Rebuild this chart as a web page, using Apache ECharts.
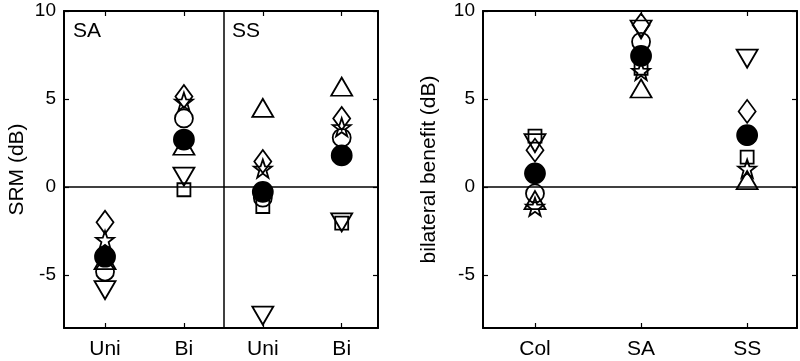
<!DOCTYPE html>
<html>
<head>
<meta charset="utf-8">
<script src="https://cdn.jsdelivr.net/npm/echarts@6/dist/echarts.min.js"></script>
<style>html,body{margin:0;padding:0;background:#fff}#c{width:800px;height:361px}</style>
</head>
<body>
<div id="c"></div>
<script>
// ---- data ----
const leftCats = ['Uni', 'Bi', 'Uni', 'Bi'];
const rightCats = ['Col', 'SA', 'SS'];
const yTicks = [-5, 0, 5, 10];

// SRM (dB), left panel, one value per category
const srmSquare   = [-4.0, -0.15, -1.1, -2.05];
const srmTriUp    = [-4.15, 2.35, 4.5, 5.7];
const srmTriDown  = [-5.85, 0.6, -7.3, -2.0];
const srmDiamond  = [-2.0, 5.15, 1.45, 3.9];
const srmCircle   = [-4.8, 3.9, -0.6, 2.8];
const srmStar     = [-3.0, 4.85, 1.05, 3.4];
const srmMean     = [-3.95, 2.7, -0.27, 1.8];

// bilateral benefit (dB), right panel
const benSquare   = [2.9, 6.75, 1.7];
const benTriUp    = [-0.74, 5.6, 0.4];
const benTriDown  = [2.5, 8.95, 7.3];
const benDiamond  = [2.1, 9.2, 4.3];
const benCircle   = [-0.36, 8.25, 2.9];
const benStar     = [-1.12, 6.6, 1.05];
const benMean     = [0.78, 7.45, 2.95];

// ---- styling ----
const FONT = 'Liberation Sans, Arial, Helvetica, sans-serif';
const STAR = 'path://M0,-10 L2.35,-3.24 L9.51,-3.09 L3.8,1.24 L5.88,8.09 L0,4 L-5.88,8.09 L-3.8,1.24 L-9.51,-3.09 L-2.35,-3.24 Z';
const TRIDOWN = 'path://M0,0 L10,0 L5,8.66 Z';
const markers = [
  {key: 'square',  symbol: 'rect',     size: [13, 13], fill: false},
  {key: 'triUp',   symbol: 'triangle', size: [21, 18], fill: false},
  {key: 'triDown', symbol: TRIDOWN,    size: [21, 18], fill: false},
  {key: 'diamond', symbol: 'diamond',  size: [17, 23], fill: false},
  {key: 'circle',  symbol: 'circle',   size: [18, 18], fill: false},
  {key: 'star',    symbol: STAR,       size: [18, 18], fill: false},
  {key: 'mean',    symbol: 'circle',   size: [20, 20], fill: true}
];
const leftData = {square: srmSquare, triUp: srmTriUp, triDown: srmTriDown, diamond: srmDiamond, circle: srmCircle, star: srmStar, mean: srmMean};
const rightData = {square: benSquare, triUp: benTriUp, triDown: benTriDown, diamond: benDiamond, circle: benCircle, star: benStar, mean: benMean};

const chart = echarts.init(document.getElementById('c'), null, {renderer: 'canvas'});

function yAxisPair(gridIndex, name, nameGap) {
  const base = {
    type: 'value', gridIndex: gridIndex, min: -8, max: 10,
    splitLine: {show: false},
    axisLine: {show: true, lineStyle: {color: '#000', width: 2}},
    axisTick: {show: true, inside: true, length: 5, customValues: yTicks, lineStyle: {color: '#000', width: 1.2}}
  };
  return [
    Object.assign({}, base, {
      position: 'left', name: name, nameLocation: 'middle', nameGap: nameGap,
      nameTextStyle: {fontFamily: FONT, fontSize: 21, color: '#000'},
      axisLabel: {show: true, customValues: yTicks, margin: 8, fontFamily: FONT, fontSize: 19, color: '#000'}
    }),
    Object.assign({}, base, {position: 'right', axisLabel: {show: false}})
  ];
}
function xAxisPair(gridIndex, cats, min, max) {
  const vals = cats.map((c, i) => i + 1);
  const base = {
    type: 'value', gridIndex: gridIndex, min: min, max: max,
    splitLine: {show: false},
    axisLine: {show: true, onZero: false, lineStyle: {color: '#000', width: 2}},
    axisTick: {show: true, inside: true, length: 5, customValues: vals, lineStyle: {color: '#000', width: 1.2}}
  };
  return [
    Object.assign({}, base, {
      position: 'bottom',
      axisLabel: {show: true, customValues: vals, margin: 11, fontFamily: FONT, fontSize: 21, color: '#000',
        formatter: v => cats[Math.round(v) - 1]}
    }),
    Object.assign({}, base, {position: 'top', axisLabel: {show: false}})
  ];
}

const series = [];
function addPanel(dataMap, xIdx, yIdx, refLines) {
  markers.forEach((m, k) => {
    const s = {
      type: 'scatter', xAxisIndex: xIdx, yAxisIndex: yIdx,
      symbol: m.symbol, symbolSize: m.size,
      itemStyle: {color: m.fill ? '#000' : 'rgba(0,0,0,0)', borderColor: '#000', borderWidth: 1.8, opacity: 1},
      emphasis: {disabled: true},
      data: dataMap[m.key].map((v, i) => [i + 1, v]),
      z: 3 + k
    };
    if (k === 0) {
      s.markLine = {
        silent: true, symbol: 'none', animation: false,
        label: {show: false},
        lineStyle: {color: '#000', width: 1.5, type: 'solid'},
        data: refLines
      };
    }
    series.push(s);
  });
}
addPanel(leftData, 0, 0, [{yAxis: 0}, {xAxis: 2.5}]);
addPanel(rightData, 2, 2, [{yAxis: 0}]);

const ax0 = xAxisPair(0, leftCats, 0.48, 4.46);
const ax1 = xAxisPair(1, rightCats, 0.51, 3.47);
const ay0 = yAxisPair(0, 'SRM (dB)', 36);
const ay1 = yAxisPair(1, 'bilateral benefit (dB)', 43);

chart.setOption({
  animation: false,
  backgroundColor: '#fff',
  grid: [
    {left: 64, top: 11, width: 314, height: 317, containLabel: false},
    {left: 483, top: 11, width: 314, height: 317, containLabel: false}
  ],
  xAxis: [ax0[0], ax0[1], ax1[0], ax1[1]],
  yAxis: [ay0[0], ay0[1], ay1[0], ay1[1]],
  graphic: [
    {type: 'text', left: 73, top: 21, style: {text: 'SA', fontFamily: FONT, fontSize: 21, fill: '#000'}},
    {type: 'text', left: 232, top: 21, style: {text: 'SS', fontFamily: FONT, fontSize: 21, fill: '#000'}}
  ],
  series: series
});
</script>
</body>
</html>
